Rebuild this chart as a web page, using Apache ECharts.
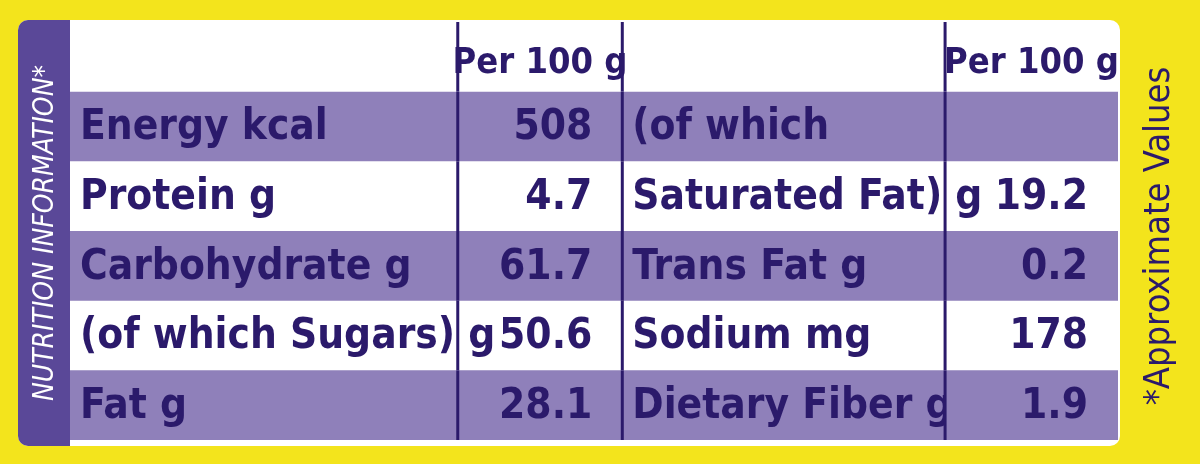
<!DOCTYPE html><html><head><meta charset="utf-8">
<script src="https://cdn.jsdelivr.net/npm/echarts@6/dist/echarts.min.js"></script>
<style>html,body{margin:0;background:#f3e41c}#c{width:1200px;height:464px}</style></head><body><div id="c"></div>
<script>
const header = ['', 'Per 100 g', '', 'Per 100 g'];
const labels1 = ['Energy kcal','Protein g','Carbohydrate g','(of which Sugars) g','Fat g'];
const values1 = ['508','4.7','61.7','50.6','28.1'];
const labels2 = ['(of which','Saturated Fat) g','Trans Fat g','Sodium mg','Dietary Fiber g'];
const values2 = ['','19.2','0.2','178','1.9'];
const shaded = [true,false,true,false,true];
const colEdges = [0, 37.0, 52.7, 83.5, 100];
const rows = ['h','r1','r2','r3','r4','r5'];
const font = '"Liberation Sans Narrow","DejaVu Sans Condensed",sans-serif';
const ink = '#2b1a6b';
const data = [];
rows.forEach((r,ri)=>{
  const cells = ri===0 ? header : [labels1[ri-1],values1[ri-1],labels2[ri-1],values2[ri-1]];
  cells.forEach((t,ci)=>data.push([ci, ri, t, ri>0 && shaded[ri-1] ? 1 : 0]));
});
const chart = echarts.init(document.getElementById('c'));
chart.setOption({
  backgroundColor:'#f3e41c',
  graphic:[
    {type:'rect',shape:{x:18,y:20,width:1102,height:426,r:10},style:{fill:'#fff'},z:-10},
    {type:'rect',shape:{x:18,y:20,width:52,height:426,r:[10,0,0,10]},style:{fill:'#5a4898'},z:100},
    {type:'text',x:46,y:233,rotation:Math.PI/2,style:{text:'NUTRITION INFORMATION*',fill:'#fff',font:'italic 28px '+font,align:'center',verticalAlign:'middle'},z:101},
    {type:'text',x:1160,y:236,rotation:Math.PI/2,style:{text:'*Approximate Values',fill:'#2b1a6b',font:'36px '+font,align:'center',verticalAlign:'middle'},z:101}
  ],
  grid:{left:70,right:82,top:22,bottom:24},
  xAxis:{type:'value',min:0,max:100,show:false},
  yAxis:{type:'category',data:rows,inverse:true,show:false},
  series:[{type:'custom',data,renderItem:(p,api)=>{
    const ci=api.value(0), ri=api.value(1), text=data[p.dataIndex][2], sh=api.value(3);
    const bw=api.size([0,1])[1];
    const c=api.coord([0,ri]);
    const y0=c[1]-bw/2;
    const x0=api.coord([colEdges[ci],0])[0], x1=api.coord([colEdges[ci+1],0])[0];
    const ch=[];
    if(sh) ch.push({type:'rect',shape:{x:x0,y:y0,width:x1-x0,height:bw},style:{fill:'#8f80ba'}});
    if(ci>0) ch.push({type:'rect',shape:{x:x0-1.5,y:y0,width:3,height:bw},style:{fill:'#2b1a6b'}});
    const isVal = ci%2===1;
    ch.push({type:'text',style:{text, x: isVal ? (ri===0 ? (x0+x1)/2 : x1-30) : x0+10,
      y: ri===0 ? y0+bw-28 : y0+bw/2+2, align: isVal ? (ri===0?'center':'right') : 'left',
      verticalAlign:'middle', fill:ink, font:(ri===0?'bold 36px ':'bold 42px ')+font}});
    return {type:'group',children:ch};
  }}]
});
</script></body></html>
